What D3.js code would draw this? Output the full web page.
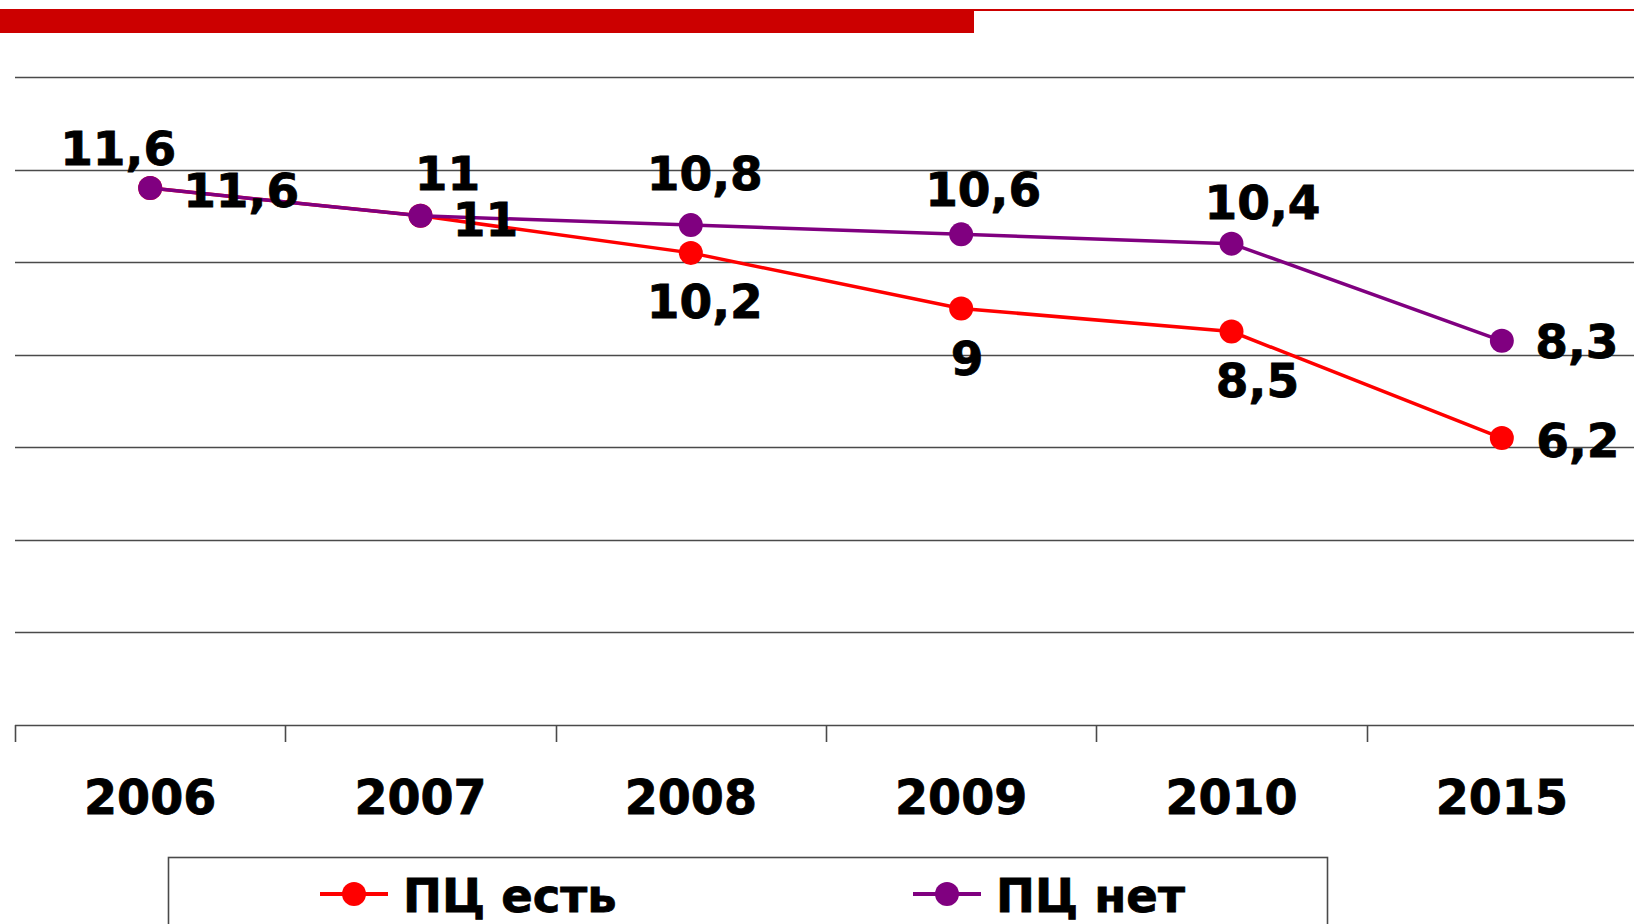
<!DOCTYPE html>
<html>
<head>
<meta charset="utf-8">
<script src="https://cdn.jsdelivr.net/npm/d3@7"></script>
<style>
  html, body { margin: 0; padding: 0; background: #fff; overflow: hidden; }
  svg { display: block; }
</style>
</head>
<body>
<script>
// ---- data ----
const years = ["2006", "2007", "2008", "2009", "2010", "2015"];
const pcYes = [11.6, 11, 10.2, 9, 8.5, 6.2];      // ПЦ есть
const pcNo  = [11.6, 11, 10.8, 10.6, 10.4, 8.3];  // ПЦ нет
const labelsYes = ["11,6", "11", "10,2", "9", "8,5", "6,2"];
const labelsNo  = ["11,6", "11", "10,8", "10,6", "10,4", "8,3"];
const seriesNames = ["ПЦ есть", "ПЦ нет"];
const yTicks = [0, 2, 4, 6, 8, 10, 12, 14];

// ---- layout ----
const W = 1634, H = 924;
const svg = d3.select("body").append("svg").attr("width", W).attr("height", H);

const FONT = "'DejaVu Sans', Verdana, sans-serif";
const x = d3.scaleBand().domain(years).range([15, 1637]).padding(0);
const y = d3.scaleLinear().domain([0, 14]).range([725, 77]);
const cx = d => x(d) + x.bandwidth() / 2;

// top decoration bar
svg.append("rect").attr("x", 0).attr("y", 9).attr("width", 974).attr("height", 24).attr("fill", "#CC0000");
svg.append("rect").attr("x", 974).attr("y", 9).attr("width", W - 974).attr("height", 2).attr("fill", "#CC0000");

// gridlines
svg.append("g").selectAll("line").data(yTicks.filter(t => t > 0)).join("line")
  .attr("x1", 15).attr("x2", W)
  .attr("y1", d => Math.round(y(d)) + 0.5).attr("y2", d => Math.round(y(d)) + 0.5)
  .attr("stroke", "#4a4a4a").attr("stroke-width", 1.6);

// x axis (labels via d3 axis)
const xAxis = svg.append("g").attr("transform", `translate(0,${Math.round(y(0)) + 0.5})`)
  .call(d3.axisBottom(x).tickSize(0).tickPadding(0));
xAxis.select(".domain").attr("stroke", "#4a4a4a").attr("stroke-width", 1.6).attr("d", `M15,0H${W}`);
xAxis.selectAll(".tick text")
  .attr("y", 88).attr("dy", null)
  .attr("font-family", FONT).attr("font-weight", "bold").attr("font-size", 47.5).attr("fill", "#000")
  .attr("stroke", "#000").attr("stroke-width", 0.8);

// tick marks at category boundaries
const edges = years.map(d => x(d)).concat([x(years[years.length - 1]) + x.bandwidth()]);
svg.append("g").selectAll("line").data(edges).join("line")
  .attr("x1", d => Math.round(d) + 0.5).attr("x2", d => Math.round(d) + 0.5)
  .attr("y1", Math.round(y(0))).attr("y2", Math.round(y(0)) + 17)
  .attr("stroke", "#4a4a4a").attr("stroke-width", 1.6);

// lines
const colors = ["#FF0000", "#800080"];
const line = d3.line().x(d => cx(d.year)).y(d => y(d.v));
const dataYes = years.map((yr, i) => ({ year: yr, v: pcYes[i], label: labelsYes[i] }));
const dataNo  = years.map((yr, i) => ({ year: yr, v: pcNo[i],  label: labelsNo[i] }));

[dataYes, dataNo].forEach((ser, si) => {
  svg.append("path").datum(ser).attr("d", line)
    .attr("fill", "none").attr("stroke", colors[si]).attr("stroke-width", 3.5);
  svg.append("g").selectAll("circle").data(ser).join("circle")
    .attr("cx", d => cx(d.year)).attr("cy", d => y(d.v)).attr("r", 12)
    .attr("fill", colors[si]);
});

// label placements (offset of label centre from point)
const placeYes = [[91, 3], [65, 4], [14, 49], [6, 51], [26, 49], [76, 3]];
const placeNo  = [[-32, -39], [27, -42], [14, -51], [22, -44], [31, -41], [75, 1]];
[[dataYes, placeYes], [dataNo, placeNo]].forEach(([ser, pl]) => {
  svg.append("g").selectAll("text").data(ser).join("text")
    .attr("x", (d, i) => cx(d.year) + pl[i][0])
    .attr("y", (d, i) => y(d.v) + pl[i][1] + 16)
    .attr("text-anchor", "middle")
    .attr("font-family", FONT).attr("font-weight", "bold").attr("font-size", 47).attr("fill", "#000")
    .attr("stroke", "#000").attr("stroke-width", 0.8)
    .text(d => d.label);
});

// legend
svg.append("rect").attr("x", 168.5).attr("y", 857.5).attr("width", 1159).attr("height", 100)
  .attr("fill", "#fff").attr("stroke", "#4a4a4a").attr("stroke-width", 1.6);
const legendX = [320, 913];
seriesNames.forEach((name, i) => {
  const g = svg.append("g").attr("transform", `translate(${legendX[i]},894)`);
  g.append("line").attr("x1", 0).attr("x2", 68).attr("y1", 0).attr("y2", 0)
    .attr("stroke", colors[i]).attr("stroke-width", 4);
  g.append("circle").attr("cx", 34).attr("cy", 0).attr("r", 12).attr("fill", colors[i]);
  g.append("text").attr("x", 83).attr("y", 18)
    .attr("font-family", FONT).attr("font-weight", "bold").attr("font-size", 46.5).attr("fill", "#000")
    .attr("stroke", "#000").attr("stroke-width", 0.8)
    .text(name);
});
</script>
</body>
</html>
